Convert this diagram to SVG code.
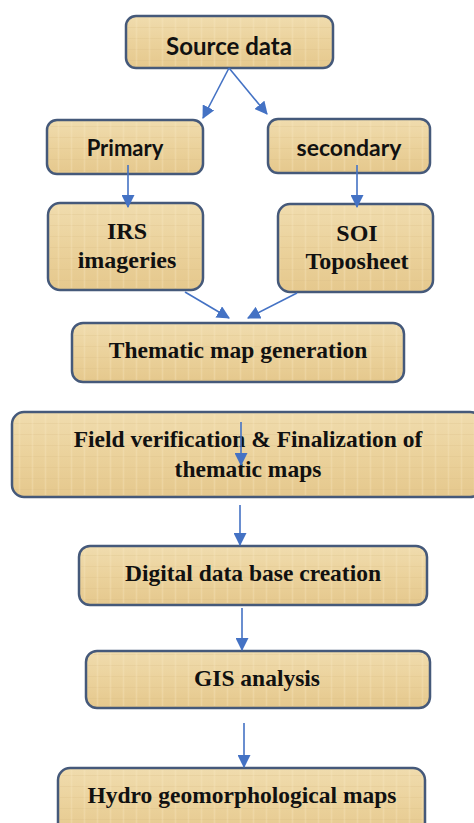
<svg xmlns="http://www.w3.org/2000/svg" width="474" height="823" viewBox="0 0 474 823">
  <defs>
    <!-- papyrus-like fill: warm tan base with faint fibre grid -->
    <linearGradient id="tan" x1="0" y1="0" x2="0" y2="1">
      <stop offset="0" stop-color="#f0dcae"/>
      <stop offset="0.5" stop-color="#ebd29c"/>
      <stop offset="1" stop-color="#e5c88d"/>
    </linearGradient>
    <pattern id="fibre" width="13" height="11" patternUnits="userSpaceOnUse">
      <path d="M0 5.5H13" stroke="#d8bc82" stroke-width="1" opacity="0.25"/>
      <path d="M6.5 0V11" stroke="#f7e8c4" stroke-width="1.5" opacity="0.3"/>
    </pattern>
    <marker id="head" viewBox="0 0 12 12" refX="11" refY="6" markerWidth="13" markerHeight="13" markerUnits="userSpaceOnUse" orient="auto">
      <path d="M0 0L12 6L0 12Z" fill="#4472c4"/>
    </marker>
  </defs>
  <style>
    .box { fill: url(#tan); stroke: #45597a; stroke-width: 2.5; }
    .tex { fill: url(#fibre); }
    .sans { font-family: Lato, "Liberation Sans", sans-serif; font-weight: bold; fill: #111; text-anchor: middle; }
    .serif { font-family: "Liberation Serif", "Times New Roman", serif; font-weight: bold; fill: #111; text-anchor: middle; }
    .link { stroke: #4472c4; stroke-width: 1.6; fill: none; marker-end: url(#head); }
  </style>

  <rect width="474" height="823" fill="#ffffff"/>

  <g id="source-data">
    <rect class="box" x="126" y="16" width="207" height="52" rx="10"/>
    <rect class="tex" x="128" y="18" width="203" height="48" rx="9"/>
    <text class="sans" x="229" y="55" font-size="24">Source data</text>
  </g>

  <g id="primary">
    <rect class="box" x="47" y="120" width="156" height="54" rx="10"/>
    <rect class="tex" x="49" y="122" width="152" height="50" rx="9"/>
    <text class="sans" x="125" y="156" font-size="22">Primary</text>
  </g>

  <g id="secondary">
    <rect class="box" x="268" y="119" width="162" height="54" rx="10"/>
    <rect class="tex" x="270" y="121" width="158" height="50" rx="9"/>
    <text class="sans" x="349" y="156" font-size="23">secondary</text>
  </g>

  <g id="irs-imageries">
    <rect class="box" x="48" y="203" width="155" height="87" rx="12"/>
    <rect class="tex" x="50" y="205" width="151" height="83" rx="11"/>
    <text class="serif" x="127" y="239" font-size="24">IRS</text>
    <text class="serif" x="127" y="268" font-size="24">imageries</text>
  </g>

  <g id="soi-toposheet">
    <rect class="box" x="278" y="204" width="155" height="88" rx="12"/>
    <rect class="tex" x="280" y="206" width="151" height="84" rx="11"/>
    <text class="serif" x="357" y="241" font-size="24">SOI</text>
    <text class="serif" x="357" y="269" font-size="24">Toposheet</text>
  </g>

  <g id="thematic-map-generation">
    <rect class="box" x="72" y="323" width="332" height="59" rx="11"/>
    <rect class="tex" x="74" y="325" width="328" height="55" rx="10"/>
    <text class="serif" x="238" y="358" font-size="23.5">Thematic map generation</text>
  </g>

  <g id="field-verification">
    <rect class="box" x="12" y="412" width="470" height="85" rx="12"/>
    <rect class="tex" x="14" y="414" width="466" height="81" rx="11"/>
    <text class="serif" x="248" y="447" font-size="23.5">Field verification &amp; Finalization of</text>
    <text class="serif" x="248" y="477" font-size="23.5">thematic maps</text>
  </g>

  <g id="digital-data-base">
    <rect class="box" x="79" y="546" width="348" height="59" rx="11"/>
    <rect class="tex" x="81" y="548" width="344" height="55" rx="10"/>
    <text class="serif" x="253" y="581" font-size="23.5">Digital data base creation</text>
  </g>

  <g id="gis-analysis">
    <rect class="box" x="86" y="651" width="344" height="57" rx="11"/>
    <rect class="tex" x="88" y="653" width="340" height="53" rx="10"/>
    <text class="serif" x="257" y="686" font-size="23.5">GIS analysis</text>
  </g>

  <g id="hydro-maps">
    <rect class="box" x="58" y="768" width="367" height="70" rx="12"/>
    <rect class="tex" x="60" y="770" width="363" height="66" rx="11"/>
    <text class="serif" x="242" y="803" font-size="23.5">Hydro geomorphological maps</text>
  </g>

  <g id="connectors">
    <line class="link" x1="229" y1="68" x2="203" y2="118"/>
    <line class="link" x1="229" y1="68" x2="267" y2="114"/>
    <line class="link" x1="128" y1="165" x2="128" y2="207"/>
    <line class="link" x1="357" y1="165" x2="357" y2="207"/>
    <line class="link" x1="185" y1="292" x2="229" y2="318"/>
    <line class="link" x1="297" y1="293" x2="248" y2="318"/>
    <line class="link" x1="241" y1="422" x2="241" y2="465"/>
    <line class="link" x1="240" y1="505" x2="240" y2="545"/>
    <line class="link" x1="242" y1="608" x2="242" y2="650"/>
    <line class="link" x1="244" y1="723" x2="244" y2="767"/>
  </g>
</svg>
